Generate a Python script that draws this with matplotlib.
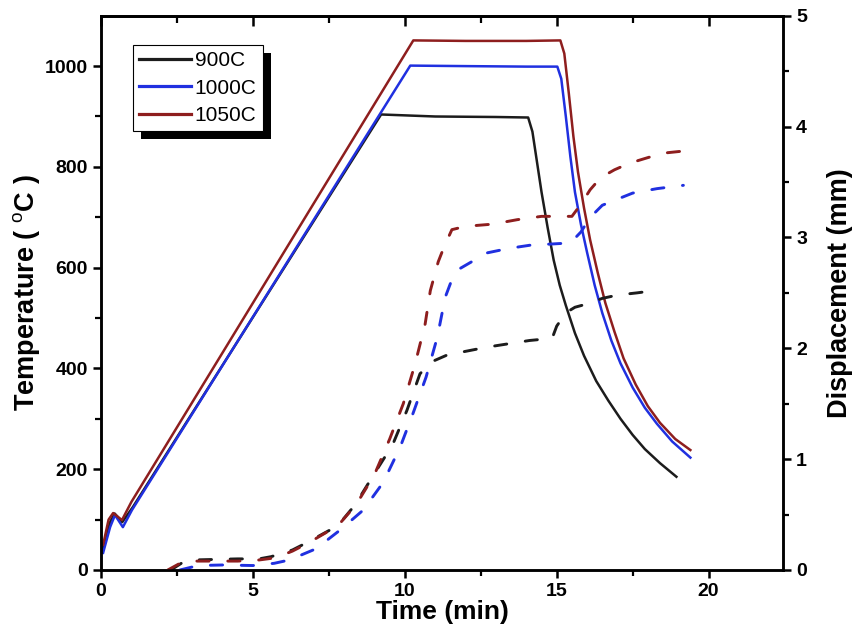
import matplotlib
matplotlib.use('Agg')
import matplotlib.pyplot as plt
from matplotlib.patches import Rectangle

plt.rcParams['font.family'] = ['Liberation Sans', 'DejaVu Sans']
plt.rcParams['mathtext.fontset'] = 'custom'
plt.rcParams['mathtext.rm'] = 'Liberation Sans'
plt.rcParams['mathtext.bf'] = 'Liberation Sans:bold'

# temperature runs (time in min, temperature in C)
t_900 = [0.05, 0.3, 0.45, 0.7, 1.05, 9.22, 11.0, 13.0, 14.06, 14.2, 14.35, 14.5, 14.7, 14.9,
         15.1, 15.3, 15.6, 15.9, 16.3, 16.7, 17.1, 17.5, 17.9, 18.4, 18.94]
T_900 = [40, 95, 112, 95, 125, 904, 900, 899, 898, 870, 810, 750, 680, 615,
         565, 525, 470, 425, 375, 336, 300, 268, 240, 212, 185]

t_1000 = [0.07, 0.3, 0.46, 0.72, 1.02, 10.18, 12.0, 14.0, 15.02, 15.15, 15.3, 15.45, 15.6, 15.8,
          16.0, 16.25, 16.5, 16.8, 17.1, 17.5, 17.9, 18.3, 18.8, 19.4]
T_1000 = [34, 85, 109, 85, 119, 1001, 1000, 999, 999, 975, 900, 820, 750, 685,
          630, 565, 510, 455, 410, 362, 322, 290, 255, 223]

t_1050 = [0.07, 0.25, 0.4, 0.69, 1.0, 10.28, 12.0, 14.0, 15.12, 15.25, 15.4, 15.55, 15.7, 15.9,
          16.1, 16.35, 16.6, 16.9, 17.2, 17.6, 18.0, 18.4, 18.9, 19.4]
T_1050 = [50, 100, 113, 99, 135, 1051, 1050, 1050, 1051, 1025, 945, 860, 790, 718,
          655, 590, 530, 473, 420, 368, 325, 292, 260, 238]

# displacement runs (time in min, displacement in mm)
td_900 = [2.3, 2.7, 3.0, 4.5, 5.2, 5.6, 6.3, 6.8, 7.8, 8.37, 9.0, 9.6, 10.07, 10.5, 10.9,
          11.4, 12.7, 14.1, 14.85, 15.0, 15.3, 15.6, 16.0, 16.5, 17.0, 17.65, 18.2]
d_900 = [0.0, 0.07, 0.09, 0.1, 0.1, 0.12, 0.18, 0.25, 0.40, 0.59, 0.87, 1.13, 1.44, 1.77, 1.88,
         1.94, 2.01, 2.07, 2.09, 2.2, 2.32, 2.37, 2.4, 2.45, 2.48, 2.5, 2.52]

td_1000 = [2.6, 3.2, 4.0, 5.0, 5.7, 6.2, 6.98, 7.4, 7.87, 8.63, 9.29, 9.85, 10.28, 10.7, 11.07,
           11.33, 11.55, 11.82, 12.7, 13.4, 14.13, 15.45, 15.8, 16.1, 16.5, 16.86, 17.5, 18.3, 19.17]
d_1000 = [0.0, 0.04, 0.045, 0.04, 0.06, 0.09, 0.18, 0.26, 0.36, 0.54, 0.79, 1.11, 1.42, 1.74, 2.1,
          2.46, 2.62, 2.72, 2.86, 2.9, 2.93, 2.95, 3.05, 3.18, 3.29, 3.33, 3.4, 3.44, 3.47]

td_1050 = [2.2, 2.6, 3.0, 4.5, 5.2, 5.75, 6.3, 6.8, 7.3, 7.8, 8.4, 9.0, 9.5, 9.95, 10.34, 10.67,
           10.84, 11.1, 11.3, 11.55, 12.0, 12.9, 13.7, 14.5, 15.5, 15.8, 16.1, 16.45, 16.9, 17.4,
           18.0, 18.5, 19.2]
d_1050 = [0.0, 0.06, 0.08, 0.08, 0.09, 0.11, 0.17, 0.24, 0.32, 0.40, 0.59, 0.86, 1.18, 1.5, 1.86, 2.22,
          2.52, 2.78, 2.92, 3.07, 3.10, 3.12, 3.16, 3.19, 3.19, 3.3, 3.43, 3.54, 3.61, 3.67,
          3.72, 3.76, 3.78]

labels = ['900C', '1000C', '1050C']
colors = ['#1c1c1c', '#2030e0', '#8e1e1e']

fig = plt.figure(figsize=(8.53, 6.34), dpi=100)
ax = fig.add_axes([0.1184, 0.101, 0.7996, 0.8742])
ax2 = ax.twinx()

lw = 1.8
h1, = ax.plot(t_900, T_900, color=colors[0], lw=lw)
h2, = ax.plot(t_1000, T_1000, color=colors[1], lw=lw)
h3, = ax.plot(t_1050, T_1050, color=colors[2], lw=lw)

dash = (0, (4.2, 6.4))
ax2.plot(td_900, d_900, color=colors[0], lw=2.1, ls=dash, dash_capstyle='round')
ax2.plot(td_1000, d_1000, color=colors[1], lw=2.1, ls=dash, dash_capstyle='round')
ax2.plot(td_1050, d_1050, color=colors[2], lw=2.1, ls=dash, dash_capstyle='round')

ax.set_xlim(0, 22.45)
ax.set_ylim(0, 1100)
ax2.set_ylim(0, 5)

ax.set_xticks([0, 5, 10, 15, 20])
ax.set_xticks([2.5, 7.5, 12.5, 17.5], minor=True)
ax.set_yticks([0, 200, 400, 600, 800, 1000])
ax.set_yticks([100, 300, 500, 700, 900], minor=True)
ax2.set_yticks([0, 1, 2, 3, 4, 5])
ax2.set_yticks([0.5, 1.5, 2.5, 3.5, 4.5], minor=True)

for a in (ax, ax2):
    for s in a.spines.values():
        s.set_linewidth(1.8)
    a.tick_params(which='major', length=6, width=1.8, labelsize=14, direction='out')
    a.tick_params(which='minor', length=4, width=1.6, direction='out')
    for lab in a.get_xticklabels() + a.get_yticklabels():
        lab.set_fontweight('bold')

top = ax.secondary_xaxis('top')
top.set_xticks([0, 5, 10, 15, 20])
top.set_xticks([2.5, 7.5, 12.5, 17.5], minor=True)
top.tick_params(which='major', direction='in', length=7, width=1.8, labeltop=False)
top.tick_params(which='minor', direction='in', length=5, width=1.6)
top.spines['top'].set_linewidth(1.8)

ax.set_xlabel('Time (min)', fontsize=19, fontweight='bold', labelpad=0)
ax.set_ylabel(r'Temperature ( $^{\rm o}$C )', fontsize=19.5, fontweight='bold', labelpad=2)
ax2.set_ylabel('Displacement (mm)', fontsize=19.5, fontweight='bold', labelpad=14)

leg = ax2.legend([h1, h2, h3], labels, loc='upper left', bbox_to_anchor=(0.047, 0.947),
                 borderaxespad=0, fontsize=15, frameon=True, fancybox=False, edgecolor='black',
                 handlelength=2.5, handletextpad=0.15, labelspacing=0.4, borderpad=0.3)
leg.get_frame().set_linewidth(0.8)
leg.get_frame().set_alpha(1)
leg.set_zorder(10)
for line in leg.get_lines():
    line.set_linewidth(2.3)

fig.canvas.draw()
bb = leg.get_window_extent()
off = 8
shadow = Rectangle(((bb.x0 + off) / fig.bbox.width, (bb.y0 - off) / fig.bbox.height),
                   bb.width / fig.bbox.width, bb.height / fig.bbox.height,
                   transform=fig.transFigure, facecolor='black', edgecolor='none', zorder=9)
shadow.set_clip_on(False)
ax2.add_artist(shadow)

fig.savefig('out.png', dpi=100)
